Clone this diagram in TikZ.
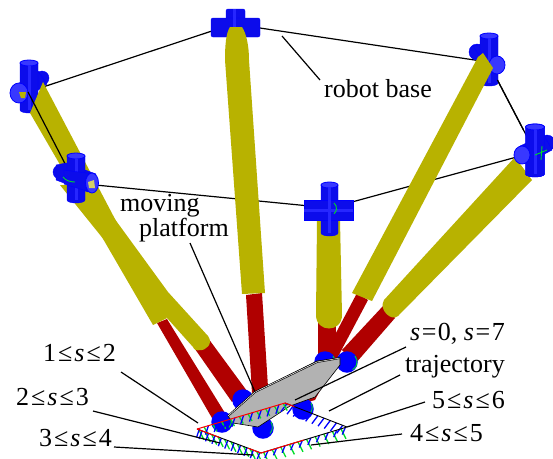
\documentclass[tikz,border=0pt]{standalone}
\usepackage{fontspec}
\usetikzlibrary{calc}
\setmainfont{Liberation Serif}
\definecolor{yel}{RGB}{184,178,0}
\definecolor{rd}{RGB}{176,0,0}
\definecolor{bl}{RGB}{0,0,255}
\definecolor{dbl}{RGB}{12,12,235}
\definecolor{gr}{RGB}{178,178,178}
\definecolor{grn}{RGB}{0,220,40}
\tikzset{
 yleg/.style={fill=yel,draw=none},
 rleg/.style={fill=rd,draw=none},
 ball/.style={circle,fill=bl,draw=none,inner sep=0pt,minimum size=21.5pt},
 baseline/.style={draw=black,line width=1.2pt},
 leader/.style={draw=black,line width=1.2pt},
 lab/.style={font=\fontsize{26}{26}\selectfont,inner sep=0pt,anchor=base west},
 cyl/.style={fill=dbl,draw=bl,line width=.4pt},
 capend/.style={fill=bl!78!white,draw=bl,line width=.8pt},
 grnarc/.style={draw=grn,line width=.9pt},
 hatchg/.style={draw=grn,line width=1.3pt},
 hatchb/.style={draw=bl,line width=1.3pt},
}
\newcommand{\Le}{\kern2pt≤\kern2pt}
\newcommand{\Eq}{\kern1.5pt=\kern1.5pt}
% vertical cylinder with elliptic ends: x, top y, bottom y, halfwidth
\newcommand{\VCyl}[4]{%
  \fill[cyl] (#1-#4,#2) -- (#1-#4,#3) arc (180:0:#4 and 3) -- (#1+#4,#2) -- cycle;
  \fill[capend] (#1,#2) ellipse ({#4} and 3);
  \fill[bl!85!white] (#1-1.5,#2+3) rectangle (#1+1.5,#3);
}
\begin{document}
\begin{tikzpicture}[x=1pt,y=-1pt]
\useasboundingbox (0,0) rectangle (553,458);
\coordinate (j1) at (28,92); \coordinate (j2) at (233,24); \coordinate (j3) at (488,62);
\coordinate (j4) at (535,152); \coordinate (j5) at (330,208); \coordinate (j6) at (75,183);
\draw[baseline] (j1)--(j2)--(j3)--(j4)--(j5)--(j6)--(j1);
% joints behind legs
\fill[cyl] (42,78) circle (7);
\draw[cyl,line join=round] (13,87) -- (38,71) -- (47,84) -- (24,100) -- cycle;
\VCyl{29}{63}{110}{9}
\fill[capend] (19,93) ellipse (9 and 10);
\fill[yel] (19,92) -- (26,92) -- (25,98) -- (21,98) -- cycle;
\fill[cyl,rounded corners=2pt] (226,9) rectangle (245,37);
\fill[cyl,rounded corners=2pt] (211,18) rectangle (260,37);
\fill[bl!85!white] (233,9) rectangle (236,37);
\fill[cyl] (477,52) circle (8);
\draw[cyl,line join=round] (473,46) -- (483,44) -- (505,62) -- (492,74) -- cycle;
\VCyl{489}{36}{83}{9}
\fill[capend] (497,65) ellipse (8 and 9);
% red legs
\fill[rleg] (357,293) -- (368,300) -- (315,400) -- (298,405) -- cycle;
\fill[rleg] (246,295) -- (262,293) -- (268,387) -- (252,393) -- cycle;
\fill[rleg] (157,323) -- (167,319) -- (225,413) -- (212,418) -- cycle;
\fill[rleg] (195,349) -- (208,338) -- (247,391) -- (232,402) -- cycle;
\fill[rleg] (318,320) -- (336,320) -- (336,360) -- (318,360) -- cycle;
\fill[rleg] (383,306) -- (395,318) -- (355,364) -- (342,350) -- cycle;
% lower balls
\node[ball] (b1) at (222,422) {};
\node[ball] (b2) at (263,428) {};
\node[ball] (b3) at (303,409) {};
\node[ball] (b4) at (243,400) {};
\node[ball] (b5) at (325,362) {};
\node[ball] (b6) at (347,362) {};
\draw[grnarc] (252,393) arc (-40:40:10);
\draw[grnarc] (333,356) arc (-40:60:9);
\draw[grnarc] (355,356) arc (-40:60:9);
\draw[grnarc] (271,422) arc (-30:40:10);
\draw[grnarc] (230,416) arc (-30:40:10);
\draw[grnarc] (311,403) arc (-30:40:9);
% platform
\fill[gr,draw=black,line width=.6pt] (228,416) -- (255,392) -- (317,361) -- (340,358) -- (340,365) -- (315,397) -- (290,406) -- (258,427) -- (233,423) -- cycle;
\draw[black,line width=1.8pt] (228,416) -- (255,392) -- (317,362) -- (340,358);
\draw[white,line width=.5pt] (228,416) -- (255,392) -- (317,362) -- (340,358);
% yellow legs
\fill[yleg] (30,113) -- (43,82) -- (167,318) -- (153,325) -- cycle;
\fill[yleg] (60,185) -- (90,185) -- (168,292) -- (208,336) .. controls (214,344) and (205,351) .. (200,350) .. controls (197,351) and (194,350) .. (193,347) -- (167,318) -- (80,210) -- cycle;
\fill[yleg] (225,60) .. controls (225,45) and (226,33) .. (230,27) -- (242,27) .. controls (246,33) and (249,45) .. (249,60) -- (265,293) -- (242,294) -- cycle;
\fill[yleg] (317,220) -- (340,220) -- (342,315) .. controls (342,333) and (316,333) .. (316,315) -- cycle;
\fill[yleg] (478,57) -- (483,53) -- (493,68) -- (372,301) -- (352,293) -- cycle;
\fill[yleg] (515,157) -- (532,180) -- (398,316) .. controls (392,322) and (378,310) .. (384,300) -- cycle;
\draw[baseline] (j6)--(j1);
\draw[baseline] ($(j3)!.2!(j4)$)--($(j3)!.75!(j4)$);
% joints in front
\fill[cyl] (60,172) circle (7);
\draw[cyl,line join=round] (56,165) -- (66,163) -- (96,174) -- (88,192) -- (56,180) -- cycle;
\VCyl{76}{156}{200}{9}
\draw[cyl,line join=round] (64,170) -- (94,174) -- (90,192) -- (64,184) -- cycle;
\fill[capend] (92,183) ellipse (6.5 and 10);
\fill[yel!60!white] (88,182) -- (94,180) -- (95,188) -- (89,188) -- cycle;
\draw[grnarc] (63,177) .. controls (66,181) and (71,182) .. (75,182);
\VCyl{535}{127}{174}{9.5}
\fill[cyl] (547,143) circle (8);
\draw[cyl,line join=round] (520,146) -- (544,135) -- (552,150) -- (526,164) -- cycle;
\VCyl{535}{127}{174}{9.5}
\fill[capend] (522,155) ellipse (8 and 9);
\draw[grnarc] (542,146) -- (541,160) (535,155) -- (547,150);
\VCyl{329.5}{185}{233}{8.5}
\fill[cyl] (304,200) rectangle (353,220);
\fill[bl!85!white] (304,209) rectangle (353,212);
\fill[bl!85!white] (328,187) rectangle (331,233);
\draw[grnarc] (334,203) arc (-50:50:7);
% trajectory
\coordinate (t1) at (197,429); \coordinate (t2) at (261,453); \coordinate (t3) at (347,427); \coordinate (t4) at (285,403);
\foreach \u in {0.03,0.13,...,1}{
  \draw[hatchg] ($(t1)!\u!(t2)$) -- ++(5,10);
  \draw[hatchb] ($(t1)!\u!(t4)$) -- ++(-3,9);
  \draw[hatchg] ($(t1)!\u+0.05!(t4)$) -- ++(4,7);
  \draw[hatchb] ($(t1)!\u+0.05!(t2)$) -- ++(-3,8);
  \draw[hatchb] ($(t4)!\u!(t3)$) -- ++(-6,8);
  \draw[hatchg] ($(t2)!\u!(t3)$) -- ++(5,10);
  \draw[hatchb] ($(t2)!\u+0.05!(t3)$) -- ++(-3,7);
}
\draw[black,line width=.9pt] (t3)--(t4) (t1)--(t2) (t2)--(t3);
\draw[red,line width=1pt] (t1)--(t4)--($(t4)!.15!(t3)$);
\draw[red,line width=1pt] (t1)--($(t1)!.35!(t2)$) ($(t1)!.8!(t2)$)--(t2)--($(t2)!.5!(t3)$);
% labels
\node[lab] (rb) at (324,97) {robot base};
\coordinate (rb1) at (282,36);
\draw[leader] (rb1) -- (320,80);
\node[lab] (mp) at (120,211) {moving};
\node[lab] (mp2) at (139,236) {platform};
\coordinate (mp1) at (255,392);
\draw[leader] (mp1) -- (190,243);
\node[lab] (s0) at (410,340) {\textit{s}\Eq0, \textit{s}\Eq7};
\coordinate (s01) at (295,400);
\draw[leader] (s01) -- (406,347);
\node[lab] (tj) at (405,372) {trajectory};
\coordinate (tj1) at (329,411);
\draw[leader] (tj1) -- (400,375);
\node[lab] (l56) at (432,408) {5\Le\textit{s}\Le6};
\coordinate (c56) at (347,427);
\draw[leader] (c56) -- (425,402);
\node[lab] (l45) at (410,441) {4\Le\textit{s}\Le5};
\coordinate (c45) at (311,445);
\draw[leader] (c45) -- (402,434);
\node[lab] (l12) at (43,361) {1\Le\textit{s}\Le2};
\coordinate (c12) at (198,423);
\draw[leader] (c12) -- (121,372);
\node[lab] (l23) at (16,405) {2\Le\textit{s}\Le3};
\coordinate (c23) at (220,443);
\draw[leader] (c23) -- (93,411);
\node[lab] (l34) at (39,446) {3\Le\textit{s}\Le4};
\coordinate (c34) at (253,455);
\draw[leader] (c34) -- (114,447);
\end{tikzpicture}
\end{document}
